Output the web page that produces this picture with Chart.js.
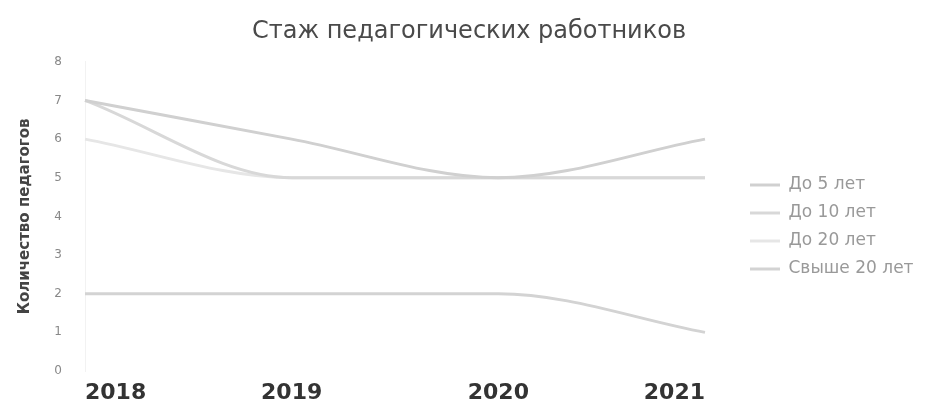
<!DOCTYPE html>
<html>
<head>
<meta charset="utf-8">
<script src="https://cdn.jsdelivr.net/npm/chart.js@4/dist/chart.umd.min.js"></script>
<style>
  html, body { margin: 0; padding: 0; background: #ffffff; }
  #wrap { width: 938px; height: 406px; }
</style>
</head>
<body>
<div id="wrap"><canvas id="c" width="938" height="406"></canvas></div>
<script>
const titleText = 'Стаж педагогических работников';
const yTitle = 'Количество педагогов';
const years = ['2018', '2019', '2020', '2021'];
const seriesNames = ['До 5 лет', 'До 10 лет', 'До 20 лет', 'Свыше 20 лет'];
const upTo5 = [7, 6, 5, 6];
const upTo10 = [7, 5, 5, 5];
const upTo20 = [6, 5, 5, 5];
const over20 = [2, 2, 2, 1];
const yTicks = [0, 1, 2, 3, 4, 5, 6, 7, 8];
const lineColors = ['#d0d0d0', '#d8d8d8', '#e6e6e6', '#d3d3d3'];

const legendFix = {
  id: 'legendFix',
  beforeUpdate(chart) {
    const lg = chart.legend;
    if (lg && !lg._fixed) {
      const origFit = lg.fit;
      lg.fit = function () { origFit.call(this); this.width = 233; };
      lg._fixed = true;
    }
  },
  afterLayout(chart) {
    const lg = chart.legend;
    if (lg) {
      lg.left = 739; lg.right = 739 + lg.width;
      lg.top += 24; lg.bottom += 24;
    }
  }
};

const bgPlugin = {
  id: 'bg',
  beforeDraw(chart) {
    const ctx = chart.ctx;
    ctx.save();
    ctx.fillStyle = '#ffffff';
    ctx.fillRect(0, 0, chart.width, chart.height);
    ctx.restore();
  }
};

const allSeries = [upTo5, upTo10, upTo20, over20];

new Chart(document.getElementById('c'), {
  type: 'line',
  data: {
    labels: years,
    datasets: allSeries.map((vals, i) => ({
      label: seriesNames[i],
      data: vals,
      borderColor: lineColors[i],
      backgroundColor: lineColors[i],
      borderWidth: 3,
      pointRadius: 0,
      cubicInterpolationMode: 'monotone',
      fill: false
    }))
  },
  options: {
    responsive: false,
    animation: false,
    devicePixelRatio: 1,
    layout: { padding: { left: 0, right: 0, top: 0, bottom: 0 } },
    plugins: {
      title: {
        display: true,
        text: titleText,
        color: '#4a4a4a',
        font: { family: 'DejaVu Sans', size: 24, weight: 'normal' },
        padding: { top: 17, bottom: 16 }
      },
      legend: {
        display: true,
        position: 'right',
        align: 'center',
        labels: {
          usePointStyle: true,
          pointStyle: 'line',
          pointStyleWidth: 30,
          boxHeight: 17,
          color: '#999999',
          padding: 11,
          font: { family: 'DejaVu Sans', size: 17 }
        }
      },
      tooltip: { enabled: false }
    },
    scales: {
      x: {
        type: 'category',
        offset: false,
        grid: { display: false, drawTicks: false },
        border: { display: false },
        ticks: {
          align: 'inner',
          padding: 9,
          color: '#333333',
          font: { family: 'DejaVu Sans', size: 22, weight: 'bold' },
          maxRotation: 0,
          autoSkip: false
        },
        afterFit(scale) { scale.height = 35; }
      },
      y: {
        min: 0,
        max: 8,
        afterBuildTicks(scale) { scale.ticks = yTicks.map(v => ({ value: v })); },
        grid: { display: false, drawTicks: false },
        border: { display: true, color: '#f2f2f2', width: 1 },
        ticks: {
          padding: 23,
          color: '#888888',
          font: { family: 'DejaVu Sans', size: 12 }
        },
        title: {
          display: true,
          text: yTitle,
          color: '#444444',
          font: { family: 'DejaVu Sans', size: 15, weight: 'bold' },
          padding: { top: 16, bottom: 20 }
        },
        afterFit(scale) { scale.width = 85; }
      }
    }
  },
  plugins: [legendFix, bgPlugin]
});
</script>
</body>
</html>
